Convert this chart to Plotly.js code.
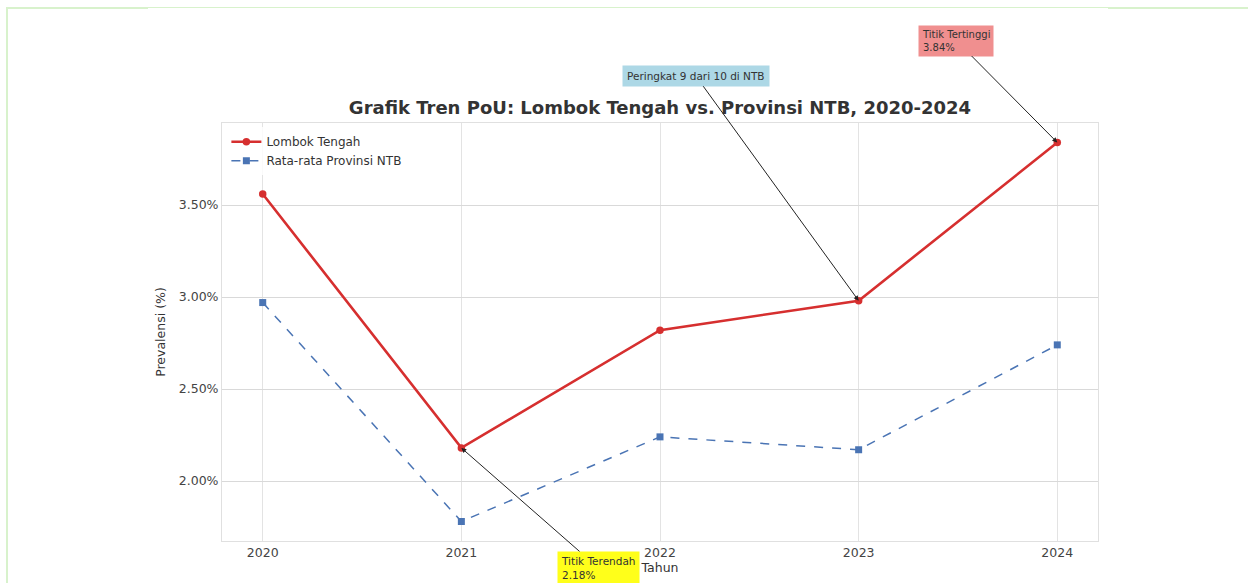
<!DOCTYPE html>
<html>
<head>
<meta charset="utf-8">
<script src="https://cdn.plot.ly/plotly-3.0.1.min.js"></script>
<style>
html,body{margin:0;padding:0;background:#fff;}
#chart{width:1248px;height:583px;}
.fr{position:absolute;background:#d8f2cc;pointer-events:none;}
</style>
</head>
<body>
<div id="chart"></div>
<div class="fr" style="left:6px;top:7px;width:2px;height:576px;"></div>
<div class="fr" style="left:6px;top:7px;width:142px;height:2px;"></div>
<div class="fr" style="left:148px;top:7px;width:960px;height:1px;"></div>
<div class="fr" style="left:1108px;top:7px;width:140px;height:2px;"></div>
<script>
const years = [2020, 2021, 2022, 2023, 2024];
const lombokTengah = [3.56, 2.18, 2.82, 2.98, 3.84];
const rataNTB = [2.97, 1.78, 2.24, 2.17, 2.74];
const yTicks = [2.0, 2.5, 3.0, 3.5];
const yTickText = ['2.00%', '2.50%', '3.00%', '3.50%'];

const FONT = 'DejaVu Sans, Verdana, sans-serif';

const traces = [
  {
    x: years, y: lombokTengah, name: 'Lombok Tengah', type: 'scatter', mode: 'lines+markers',
    line: {color: '#d62f2f', width: 2.6},
    marker: {symbol: 'circle', size: 7.5, color: '#d62f2f'}
  },
  {
    x: years, y: rataNTB, name: 'Rata-rata Provinsi NTB', type: 'scatter', mode: 'lines+markers',
    line: {color: '#4a74b4', width: 1.5, dash: 'dash'},
    marker: {symbol: 'square', size: 7, color: '#4a74b4'}
  }
];

const layout = {
  width: 1248, height: 583,
  margin: {l: 222, r: 150, t: 123, b: 42},
  paper_bgcolor: '#ffffff', plot_bgcolor: '#ffffff',
  font: {family: FONT, color: '#333', size: 12},
  title: {text: '<b>Grafik Tren PoU: Lombok Tengah vs. Provinsi NTB, 2020-2024</b>',
    font: {family: FONT, size: 18, color: '#333'}, xref: 'paper', x: 0.5, xanchor: 'center', y: 1 - 108/583, yanchor: 'middle'},
  xaxis: {
    range: [2019.795, 2024.205],
    tickvals: years, ticktext: years.map(String),
    showgrid: true, gridcolor: '#e3e3e3', gridwidth: 1,
    showline: true, linecolor: '#e0e0e0', mirror: true,
    ticks: '', tickfont: {family: FONT, size: 12.5, color: '#444'},
    title: {text: 'Tahun', font: {family: FONT, size: 12.5, color: '#333'}, standoff: 4},
    zeroline: false
  },
  yaxis: {
    range: [1.674, 3.946],
    tickvals: yTicks, ticktext: yTickText,
    showgrid: true, gridcolor: '#d9d9d9', gridwidth: 1,
    showline: true, linecolor: '#e0e0e0', mirror: true,
    ticks: '', tickfont: {family: FONT, size: 12.5, color: '#444'},
    title: {text: 'Prevalensi (%)', font: {family: FONT, size: 12.5, color: '#333'}, standoff: 10},
    zeroline: false
  },
  legend: {
    x: 0.005, y: 0.99, xanchor: 'left', yanchor: 'top',
    bgcolor: 'rgba(255,255,255,0.8)', borderwidth: 0,
    font: {family: FONT, size: 12, color: '#333'},
    tracegroupgap: 0, itemwidth: 30
  },
  showlegend: true,
  annotations: [
    {
      x: years[3], y: lombokTengah[3], xref: 'x', yref: 'y',
      text: 'Peringkat 9 dari 10 di NTB', showarrow: true,
      ax: -163, ay: -225, arrowhead: 2, arrowsize: 1, arrowwidth: 1, arrowcolor: '#222',
      bgcolor: '#add8e6', borderpad: 4, font: {family: FONT, size: 10.5, color: '#333'}
    },
    {
      x: years[4], y: lombokTengah[4], xref: 'x', yref: 'y',
      text: 'Titik Tertinggi<br>' + lombokTengah[4].toFixed(2) + '%', align: 'left', showarrow: true,
      ax: -101, ay: -102, arrowhead: 2, arrowsize: 1, arrowwidth: 1, arrowcolor: '#222',
      bgcolor: '#f08f8f', borderpad: 3, font: {family: FONT, size: 10, color: '#333'}
    },
    {
      x: years[1], y: lombokTengah[1], xref: 'x', yref: 'y',
      text: 'Titik Terendah<br>' + lombokTengah[1].toFixed(2) + '%', align: 'left', showarrow: true,
      ax: 137, ay: 120, arrowhead: 2, arrowsize: 1, arrowwidth: 1, arrowcolor: '#222',
      bgcolor: '#ffff1a', borderpad: 3, font: {family: FONT, size: 10.5, color: '#333'}
    }
  ]
};

Plotly.newPlot('chart', traces, layout, {displayModeBar: false, staticPlot: true});
</script>
</body>
</html>
